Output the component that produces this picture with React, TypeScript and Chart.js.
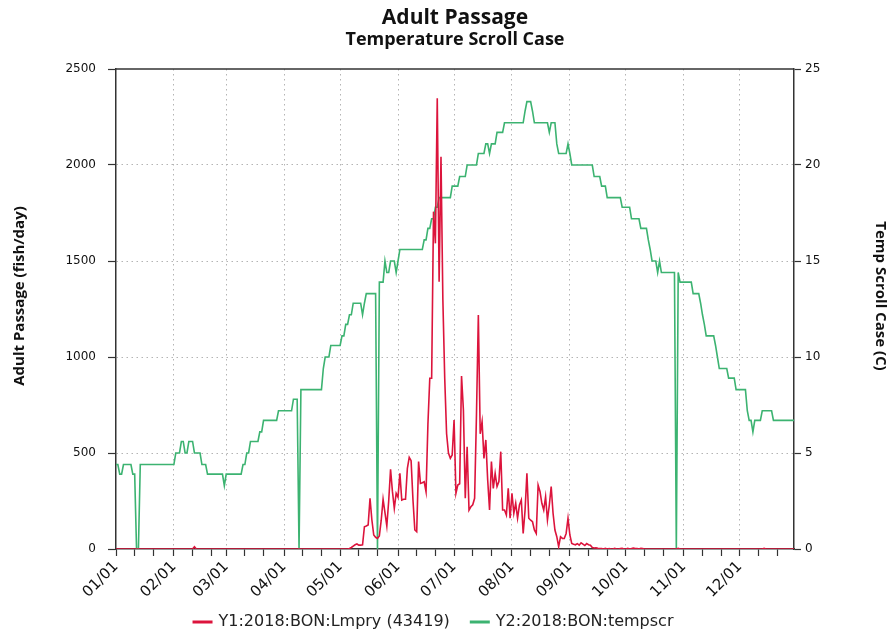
import React, { useEffect, useRef } from "react";
import { Chart, registerables } from "chart.js";

Chart.register(...registerables);

const TITLE = "Adult Passage";
const SUBTITLE = "Temperature Scroll Case";
const Y1_TITLE = "Adult Passage (fish/day)";
const Y2_TITLE = "Temp Scroll Case (C)";
const SERIES1_LABEL = "Y1:2018:BON:Lmpry (43419)";
const SERIES2_LABEL = "Y2:2018:BON:tempscr";

// day-of-year index (0 = Jan 1) of the first day of each month
const monthStarts = [0, 31, 59, 90, 120, 151, 181, 212, 243, 273, 304, 334];
const monthLabels = ["01/01", "02/01", "03/01", "04/01", "05/01", "06/01", "07/01", "08/01", "09/01", "10/01", "11/01", "12/01"];
const minorTickOffsets = [10, 20];
const y1Ticks = [0, 500, 1000, 1500, 2000, 2500];
const y2Ticks = [0, 5, 10, 15, 20, 25];

// Lamprey passage (fish/day), one value per day, by month
const passJan = [0,0,0,0,0,0,0,0,0,0,0,0,0,0,0,0,0,0,0,0,0,0,0,0,0,0,0,0,0,0,0];
const passFeb = [0,0,0,0,0,0,0,0,0,0,0,12,0,0,0,0,0,0,0,0,0,0,0,0,0,0,0,0];
const passMar = [0,0,0,0,0,0,0,0,0,0,0,0,0,0,0,0,0,0,0,0,0,0,0,0,0,0,0,0,0,0,0];
const passApr = [0,0,0,0,0,0,0,0,0,0,0,0,0,0,0,0,0,0,0,0,0,0,0,0,0,0,0,0,0,0];
const passMay = [0,0,0,0,0,3,8,15,22,26,20,20,22,116,120,125,264,151,73,61,55,68,150,259,190,120,250,415,300,212,290];
const passJun = [270,394,255,259,259,420,477,460,255,99,90,455,342,345,350,298,650,889,889,1757,1592,2347,1392,2043,1300,889,600,500,472,490];
const passJul = [672,290,333,340,901,724,264,533,203,220,230,264,700,1219,600,663,472,568,359,203,455,316,394,325,351,507,203,203,177,316,160];
const passAug = [290,186,238,160,229,255,81,200,394,160,150,142,99,81,333,300,238,203,272,151,229,325,186,99,64,12,64,55,55,81,160];
const passSep = [73,29,25,22,28,20,32,25,18,28,22,20,8,5,6,4,3,2,0,3,0,2,0,0,3,0,0,2,4,0];
const passOct = [0,3,0,2,5,3,2,0,4,2,0,0,0,0,0,0,0,0,0,0,0,0,0,0,0,0,0,0,3,0,0];
const passNov = [0,0,0,0,0,0,0,0,0,0,0,0,0,0,0,0,0,0,0,0,0,0,0,0,0,0,0,0,0,0];
const passDec = [0,0,0,0,0,0,0,0,0,0,0,0,0,3,0,0,0,0,0,0,0,0,0,0,0,0,0,0,0,0,0];

// Scroll case temperature (C), one value per day, by month
const tempJan = [4.4,4.4,3.9,3.9,4.4,4.4,4.4,4.4,4.4,3.9,3.9,0,0,4.4,4.4,4.4,4.4,4.4,4.4,4.4,4.4,4.4,4.4,4.4,4.4,4.4,4.4,4.4,4.4,4.4,4.4];
const tempFeb = [4.4,5.0,5.0,5.0,5.6,5.6,5.0,5.0,5.6,5.6,5.6,5.0,5.0,5.0,5.0,4.4,4.4,4.4,3.9,3.9,3.9,3.9,3.9,3.9,3.9,3.9,3.9,3.3];
const tempMar = [3.9,3.9,3.9,3.9,3.9,3.9,3.9,3.9,3.9,4.4,4.4,5.0,5.0,5.6,5.6,5.6,5.6,5.6,6.1,6.1,6.7,6.7,6.7,6.7,6.7,6.7,6.7,6.7,7.2,7.2,7.2];
const tempApr = [7.2,7.2,7.2,7.2,7.2,7.8,7.8,7.8,0,8.3,8.3,8.3,8.3,8.3,8.3,8.3,8.3,8.3,8.3,8.3,8.3,9.4,10.0,10.0,10.0,10.6,10.6,10.6,10.6,10.6];
const tempMay = [10.6,11.1,11.1,11.7,11.7,12.2,12.2,12.8,12.8,12.8,12.8,12.8,12.2,12.8,13.3,13.3,13.3,13.3,13.3,13.3,0,13.9,13.9,13.9,15.0,14.4,14.4,15.0,15.0,15.0,14.4];
const tempJun = [15.0,15.6,15.6,15.6,15.6,15.6,15.6,15.6,15.6,15.6,15.6,15.6,15.6,15.6,16.1,16.1,16.7,16.7,17.2,17.2,17.8,17.8,18.3,18.3,18.3,18.3,18.3,18.3,18.3,18.9];
const tempJul = [18.9,18.9,18.9,19.4,19.4,19.4,19.4,20.0,20.0,20.0,20.0,20.0,20.0,20.6,20.6,20.6,20.6,21.1,21.1,20.6,21.1,21.1,21.1,21.7,21.7,21.7,21.7,22.2,22.2,22.2,22.2];
const tempAug = [22.2,22.2,22.2,22.2,22.2,22.2,22.2,22.8,23.3,23.3,23.3,22.8,22.2,22.2,22.2,22.2,22.2,22.2,22.2,22.2,21.7,22.2,22.2,22.2,21.1,20.6,20.6,20.6,20.6,20.6,21.1];
const tempSep = [20.6,20.0,20.0,20.0,20.0,20.0,20.0,20.0,20.0,20.0,20.0,20.0,20.0,19.4,19.4,19.4,19.4,18.9,18.9,18.9,18.3,18.3,18.3,18.3,18.3,18.3,18.3,18.3,17.8,17.8];
const tempOct = [17.8,17.8,17.8,17.2,17.2,17.2,17.2,17.2,16.7,16.7,16.7,16.7,16.1,15.6,15.0,15.0,15.0,14.4,15.0,14.4,14.4,14.4,14.4,14.4,14.4,14.4,14.4,0,14.4,13.9,13.9];
const tempNov = [13.9,13.9,13.9,13.9,13.9,13.3,13.3,13.3,13.3,12.8,12.2,11.7,11.1,11.1,11.1,11.1,11.1,10.6,10.0,9.4,9.4,9.4,9.4,9.4,8.9,8.9,8.9,8.9,8.3,8.3];
const tempDec = [8.3,8.3,8.3,8.3,7.2,6.7,6.7,6.1,6.7,6.7,6.7,6.7,7.2,7.2,7.2,7.2,7.2,7.2,6.7,6.7,6.7,6.7,6.7,6.7,6.7,6.7,6.7,6.7,6.7,6.7,6.7];

const passage = [...passJan, ...passFeb, ...passMar, ...passApr, ...passMay, ...passJun, ...passJul, ...passAug, ...passSep, ...passOct, ...passNov, ...passDec];
const temperature = [...tempJan, ...tempFeb, ...tempMar, ...tempApr, ...tempMay, ...tempJun, ...tempJul, ...tempAug, ...tempSep, ...tempOct, ...tempNov, ...tempDec];

const RED = "#dc143c";
const GREEN = "#3cb371";
const AXIS = "#333333";
const GRID = "#b4b4b4";
const TEXT = "#111111";
const TICK_FONT = "DejaVu Sans";
const TITLE_FONT = "Open Sans";

const xTickValues: number[] = [];
monthStarts.forEach((m) => {
  xTickValues.push(m);
  minorTickOffsets.forEach((o) => xTickValues.push(m + o));
});

const decorPlugin = {
  id: "decor",
  afterDraw(chart: any) {
    const { ctx, chartArea: a } = chart;
    ctx.save();
    // top frame line
    ctx.strokeStyle = AXIS;
    ctx.lineWidth = 1.5;
    ctx.beginPath();
    ctx.moveTo(a.left, a.top);
    ctx.lineTo(a.right, a.top);
    ctx.stroke();

    const cx = (a.left + a.right) / 2;
    ctx.fillStyle = TEXT;
    ctx.textAlign = "center";
    ctx.textBaseline = "middle";
    ctx.font = `bold 21px '${TITLE_FONT}'`;
    ctx.fillText(TITLE, cx, 18);
    ctx.font = `bold 18px '${TITLE_FONT}'`;
    ctx.fillText(SUBTITLE, cx, 40);

    // axis titles
    const cy = 296;
    ctx.font = `bold 15px '${TITLE_FONT}'`;
    ctx.save();
    ctx.translate(20, cy);
    ctx.rotate(-Math.PI / 2);
    ctx.fillText(Y1_TITLE, 0, 0);
    ctx.restore();
    ctx.save();
    ctx.translate(880, cy);
    ctx.rotate(Math.PI / 2);
    ctx.fillText(Y2_TITLE, 0, 0);
    ctx.restore();

    // legend
    const ly = 622;
    const sw = 20;
    const gapSym = 6;
    const gapItem = 20;
    ctx.font = `16px '${TICK_FONT}'`;
    const items = chart.data.datasets.map((d: any) => ({ label: d.label, color: d.borderColor }));
    const widths = items.map((it: any) => sw + gapSym + ctx.measureText(it.label).width);
    const total = widths.reduce((s: number, w: number) => s + w, 0) + gapItem * (items.length - 1);
    let x = 433 - total / 2;
    ctx.textAlign = "left";
    items.forEach((it: any, i: number) => {
      ctx.strokeStyle = it.color;
      ctx.lineWidth = 3;
      ctx.beginPath();
      ctx.moveTo(x, ly);
      ctx.lineTo(x + sw, ly);
      ctx.stroke();
      ctx.fillStyle = "#222";
      ctx.fillText(it.label, x + sw + gapSym, ly);
      x += widths[i] + gapItem;
    });
    ctx.restore();
  },
};

export default function App() {
  const ref = useRef<HTMLCanvasElement | null>(null);

  useEffect(() => {
    document.body.style.margin = "0";
    const canvas = ref.current;
    if (!canvas) return;
    const chart = new Chart(canvas, {
      type: "line",
      data: {
        datasets: [
          {
            label: SERIES1_LABEL,
            data: passage.map((v, i) => ({ x: i, y: v })),
            borderColor: RED,
            backgroundColor: RED,
            borderWidth: 1.6,
            pointRadius: 0,
            tension: 0,
            yAxisID: "y",
          },
          {
            label: SERIES2_LABEL,
            data: temperature.map((v, i) => ({ x: i, y: v })),
            borderColor: GREEN,
            backgroundColor: GREEN,
            borderWidth: 1.6,
            pointRadius: 0,
            tension: 0,
            yAxisID: "y2",
          },
        ],
      },
      options: {
        responsive: false,
        animation: false,
        devicePixelRatio: 1,
        layout: { padding: { top: 69, left: 0, right: 0, bottom: 0 } },
        plugins: {
          legend: { display: false },
          title: { display: false },
          tooltip: { enabled: false },
        },
        scales: {
          x: {
            type: "linear",
            min: 0,
            max: 363,
            afterFit: (s: any) => {
              s.height = 86;
            },
            afterBuildTicks: (s: any) => {
              s.ticks = xTickValues.map((v) => ({ value: v }));
            },
            ticks: {
              autoSkip: false,
              minRotation: 45,
              maxRotation: 45,
              padding: 2,
              color: TEXT,
              font: { family: TICK_FONT, size: 15 },
              callback: (v: any) => {
                const idx = monthStarts.indexOf(Number(v));
                return idx >= 0 ? monthLabels[idx] : "";
              },
            },
            grid: {
              color: (c: any) =>
                c.tick && monthStarts.indexOf(c.tick.value) > 0 ? GRID : "rgba(0,0,0,0)",
              lineWidth: 1,
              tickColor: AXIS,
              tickLength: 7,
              tickWidth: 1.2,
            },
            border: { display: true, color: AXIS, width: 1.5, dash: [1.5, 3.5] },
          },
          y: {
            position: "left",
            min: 0,
            max: 2500,
            afterFit: (s: any) => {
              s.width = 116;
            },
            afterBuildTicks: (s: any) => {
              s.ticks = y1Ticks.map((v) => ({ value: v }));
            },
            ticks: {
              padding: 12,
              color: TEXT,
              font: { family: TICK_FONT, size: 12 },
              callback: (v: any) => String(v),
            },
            grid: {
              color: (c: any) =>
                c.tick && c.tick.value > 0 && c.tick.value < 2500 ? GRID : "rgba(0,0,0,0)",
              lineWidth: 1,
              tickColor: AXIS,
              tickLength: 8,
              tickWidth: 1.2,
            },
            border: { display: true, color: AXIS, width: 1.5, dash: [1.5, 3.5] },
          },
          y2: {
            position: "right",
            min: 0,
            max: 25,
            afterFit: (s: any) => {
              s.width = 96;
            },
            afterBuildTicks: (s: any) => {
              s.ticks = y2Ticks.map((v) => ({ value: v }));
            },
            ticks: {
              padding: 4,
              color: TEXT,
              font: { family: TICK_FONT, size: 12 },
              callback: (v: any) => String(v),
            },
            grid: {
              drawOnChartArea: false,
              tickColor: AXIS,
              tickLength: 7,
              tickWidth: 1.2,
            },
            border: { display: true, color: AXIS, width: 1.5 },
          },
        },
      },
      plugins: [decorPlugin],
    } as any);
    return () => chart.destroy();
  }, []);

  return <canvas ref={ref} width={890} height={635} style={{ display: "block", width: 890, height: 635 }} />;
}
